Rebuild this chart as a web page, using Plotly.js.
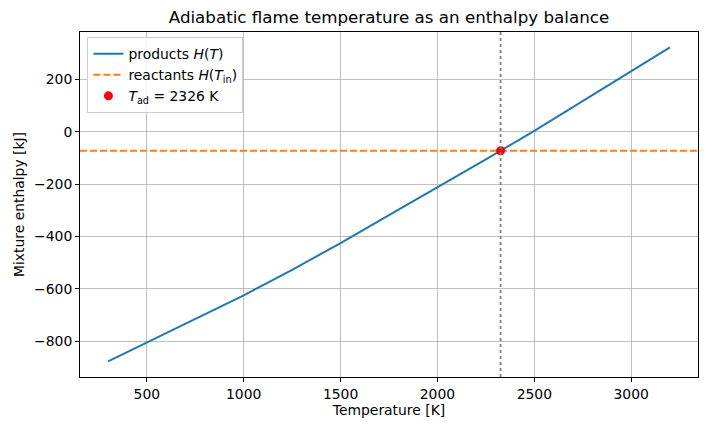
<!DOCTYPE html>
<html>
<head>
<meta charset="utf-8">
<script src="https://cdn.plot.ly/plotly-3.0.1.min.js"></script>
<style>html,body{margin:0;padding:0;background:#fff}</style>
</head>
<body>
<div id="chart" style="width:708px;height:431px"></div>
<script>
// Products mixture enthalpy H(T) [kJ]
const temperature = [300, 500, 750, 1000, 1250, 1500, 1750, 2000, 2250, 2500, 2750, 3000, 3200];
const productsH   = [-877, -805, -715, -625, -527, -425, -318, -213, -105, 4, 118, 231, 323];
// Reactants enthalpy at inlet temperature [kJ]
const reactantsH = -72;
// Adiabatic flame temperature [K]
const Tad = 2326;
// Axis limits
const xLimits = [155, 3345];
const yLimits = [-937, 382];
const xTicks = [500, 1000, 1500, 2000, 2500, 3000];
const yTicks = [-800, -600, -400, -200, 0, 200];

const font = "DejaVu Sans, Liberation Sans, sans-serif";

const traces = [
  {
    x: temperature, y: productsH, type: "scatter", mode: "lines",
    name: "products <i>H</i>(<i>T</i>)",
    line: {color: "#1f77b4", width: 2}
  },
  {
    x: xLimits, y: [reactantsH, reactantsH], type: "scatter", mode: "lines",
    name: "reactants <i>H</i>(<i>T</i><sub>in</sub>)",
    line: {color: "#ff7f0e", width: 2, dash: "7px,3px"}
  },
  {
    x: [Tad], y: [reactantsH], type: "scatter", mode: "markers",
    name: "<i>T</i><sub>ad</sub> = " + Tad + " K",
    marker: {color: "red", size: 9}
  }
];

const axisCommon = {
  showline: true, mirror: true, linecolor: "#000", linewidth: 1,
  ticks: "outside", ticklen: 4, tickcolor: "#000", tickwidth: 1,
  showgrid: true, gridcolor: "#b0b0b0", gridwidth: 0.8,
  zeroline: false, automargin: false,
  tickfont: {family: font, size: 13.9, color: "#000"}
};

const layout = {
  width: 708, height: 431,
  margin: {l: 80, r: 10, t: 32, b: 54},
  paper_bgcolor: "#fff", plot_bgcolor: "#fff",
  font: {family: font, color: "#000"},
  title: {
    text: "Adiabatic flame temperature as an enthalpy balance",
    font: {family: font, size: 16.7, color: "#000"},
    x: 0.5, xref: "paper", y: 17, yref: "container", yanchor: "middle"
  },
  xaxis: Object.assign({}, axisCommon, {
    range: xLimits, tickvals: xTicks,
    title: {text: "Temperature [K]", font: {family: font, size: 13.9}, standoff: 4}
  }),
  yaxis: Object.assign({}, axisCommon, {
    range: yLimits, tickvals: yTicks,
    title: {text: "Mixture enthalpy [kJ]", font: {family: font, size: 13.9}, standoff: 6}
  }),
  shapes: [
    {type: "line", xref: "x", yref: "paper", x0: Tad, x1: Tad, y0: 0, y1: 1,
     line: {color: "#808080", width: 1.8, dash: "dot"}, layer: "above"}
  ],
  legend: {
    x: 0.012, y: 0.985, xanchor: "left", yanchor: "top",
    bgcolor: "rgba(255,255,255,0.85)", bordercolor: "#cccccc", borderwidth: 1,
    font: {family: font, size: 13.9, color: "#000"}
  },
  showlegend: true
};
layout.title.y = 1 - 17 / 431;

Plotly.newPlot("chart", traces, layout, {displayModeBar: false, staticPlot: true});
</script>
</body>
</html>
